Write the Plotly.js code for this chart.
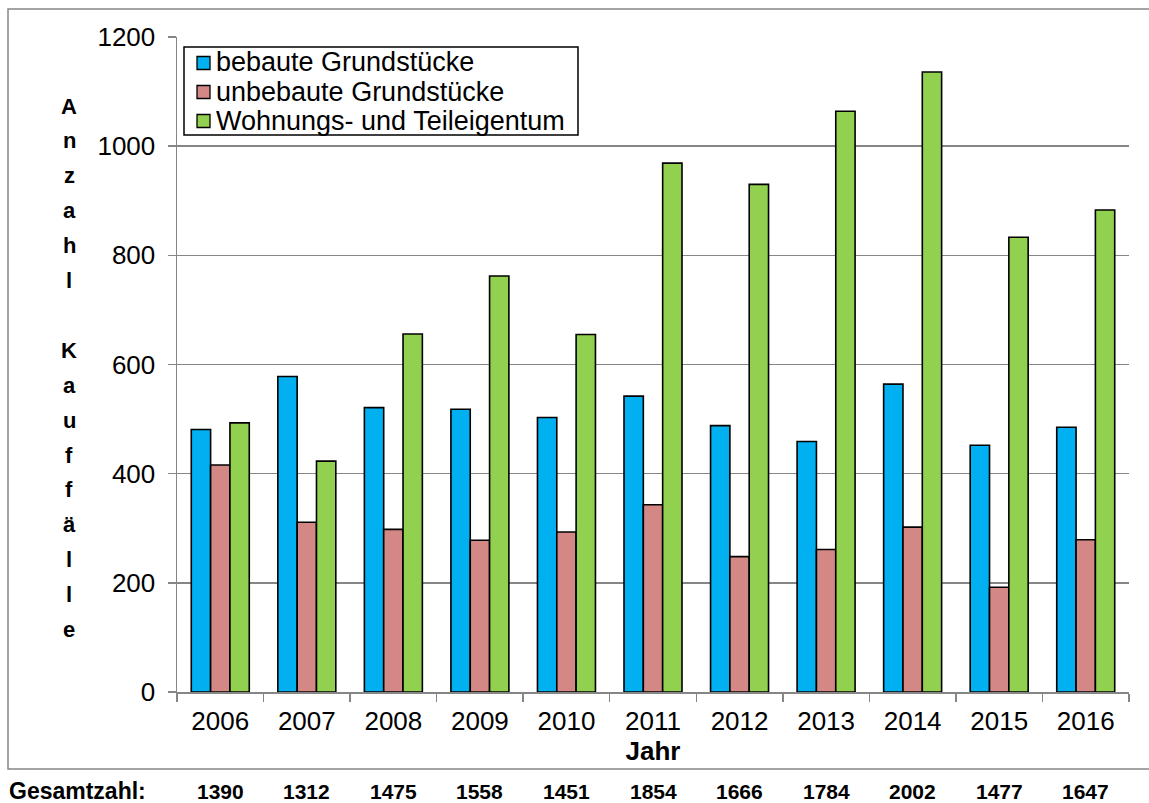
<!DOCTYPE html>
<html>
<head>
<meta charset="utf-8">
<script src="https://cdn.plot.ly/plotly-3.0.1.min.js"></script>
<style>html,body{margin:0;padding:0;background:#fff;}#chart{width:1149px;height:803px;}</style>
</head>
<body>
<div id="chart"></div>
<script>
const years = ['2006','2007','2008','2009','2010','2011','2012','2013','2014','2015','2016'];
const bebaute = [481, 578, 521, 518, 503, 542, 488, 459, 564, 452, 485];
const unbebaute = [416, 311, 298, 278, 293, 343, 248, 261, 302, 192, 279];
const wohnungen = [493, 423, 656, 762, 655, 969, 930, 1064, 1136, 833, 883];
const gesamt = [1390, 1312, 1475, 1558, 1451, 1854, 1666, 1784, 2002, 1477, 1647];
const seriesNames = ['bebaute Grundstücke', 'unbebaute Grundstücke', 'Wohnungs- und Teileigentum'];
const yTickVals = [0, 200, 400, 600, 800, 1000, 1200];
const yTitleLetters = ['A','n','z','a','h','l','','K','a','u','f','f','ä','l','l','e'];
const xTitle = 'Jahr';
const totalLabel = 'Gesamtzahl:';

const FONT = 'Liberation Sans, Arial, sans-serif';
const colors = ['#00B0F0', '#D48885', '#92D050'];
const W = 1149, H = 803;
const L = 177, R = 20, T = 37, B = 111;
const pw = W - L - R, ph = H - T - B;
const px2x = p => (p - L) / pw;
const py2y = p => (H - B - p) / ph;

const traces = [bebaute, unbebaute, wohnungen].map((vals, i) => ({
  type: 'bar', x: years, y: vals, name: seriesNames[i], showlegend: false,
  marker: {color: colors[i], line: {color: '#000', width: 1.6}}
}));

const annotations = [];
const shapes = [];
// outer border
shapes.push({type: 'rect', xref: 'paper', yref: 'paper', x0: px2x(8), x1: px2x(1151), y0: py2y(769), y1: py2y(9),
  line: {color: '#868686', width: 1.5}, fillcolor: 'rgba(0,0,0,0)', layer: 'below'});
// legend box (tight rows as in the original)
shapes.push({type: 'rect', xref: 'paper', yref: 'paper', x0: px2x(184), x1: px2x(578), y0: py2y(135), y1: py2y(47),
  line: {color: '#000', width: 1.5}, fillcolor: '#fff', layer: 'above'});
seriesNames.forEach((nm, i) => {
  const cy = 63 + i * 29;
  shapes.push({type: 'rect', xref: 'paper', yref: 'paper', x0: px2x(197), x1: px2x(210), y0: py2y(cy + 6.5), y1: py2y(cy - 6.5),
    line: {color: '#000', width: 1.3}, fillcolor: colors[i], layer: 'above'});
  annotations.push({xref: 'paper', yref: 'paper', x: px2x(214), y: py2y(cy - 0.5), text: nm, showarrow: false,
    xanchor: 'left', yanchor: 'middle', font: {family: FONT, size: 27, color: '#000'}});
});
// vertical stacked y-axis title
yTitleLetters.forEach((ch, i) => {
  if (!ch) return;
  annotations.push({xref: 'paper', yref: 'paper', x: px2x(69), y: py2y(106 + i * 34.9),
    text: '<b>' + ch + '</b>', showarrow: false, xanchor: 'center', yanchor: 'middle',
    font: {family: FONT, size: 22, color: '#000'}});
});
annotations.push({xref: 'paper', yref: 'paper', x: px2x(7), y: py2y(791), text: '<b>' + totalLabel + '</b>',
  showarrow: false, xanchor: 'left', yanchor: 'middle', font: {family: FONT, size: 23, color: '#000'}});
years.forEach((yr, i) => {
  annotations.push({xref: 'x', yref: 'paper', x: i, y: py2y(791), text: '<b>' + gesamt[i] + '</b>',
    showarrow: false, xanchor: 'center', yanchor: 'middle', font: {family: FONT, size: 21, color: '#000'}});
});

const layout = {
  width: W, height: H,
  margin: {l: L, r: R, t: T, b: B},
  paper_bgcolor: '#fff', plot_bgcolor: '#fff',
  font: {family: FONT, size: 26, color: '#000'},
  barmode: 'group', bargap: 0.33, bargroupgap: 0,
  showlegend: false,
  xaxis: {type: 'category', range: [-0.5, 10.5], showline: true, linecolor: '#868686', linewidth: 1.5,
    ticks: 'outside', tickson: 'boundaries', ticklen: 8, tickcolor: '#868686', tickwidth: 1.5,
    ticklabelstandoff: 5,
    showgrid: false, tickangle: 0, tickfont: {family: FONT, size: 26, color: '#000'},
    title: {text: '<b>' + xTitle + '</b>', font: {family: FONT, size: 26, color: '#000'}, standoff: 2},
    automargin: false, fixedrange: true},
  yaxis: {range: [0, 1200], tickvals: yTickVals, showline: true, linecolor: '#868686', linewidth: 1.5,
    ticks: 'outside', ticklen: 8, tickcolor: '#868686', tickwidth: 1.5, ticklabelstandoff: 7,
    showgrid: true, gridcolor: '#868686', gridwidth: 1.5, zeroline: false,
    tickfont: {family: FONT, size: 26, color: '#000'}, automargin: false, fixedrange: true},
  shapes: shapes,
  annotations: annotations
};

Plotly.newPlot('chart', traces, layout, {displayModeBar: false, staticPlot: true});
</script>
</body>
</html>
